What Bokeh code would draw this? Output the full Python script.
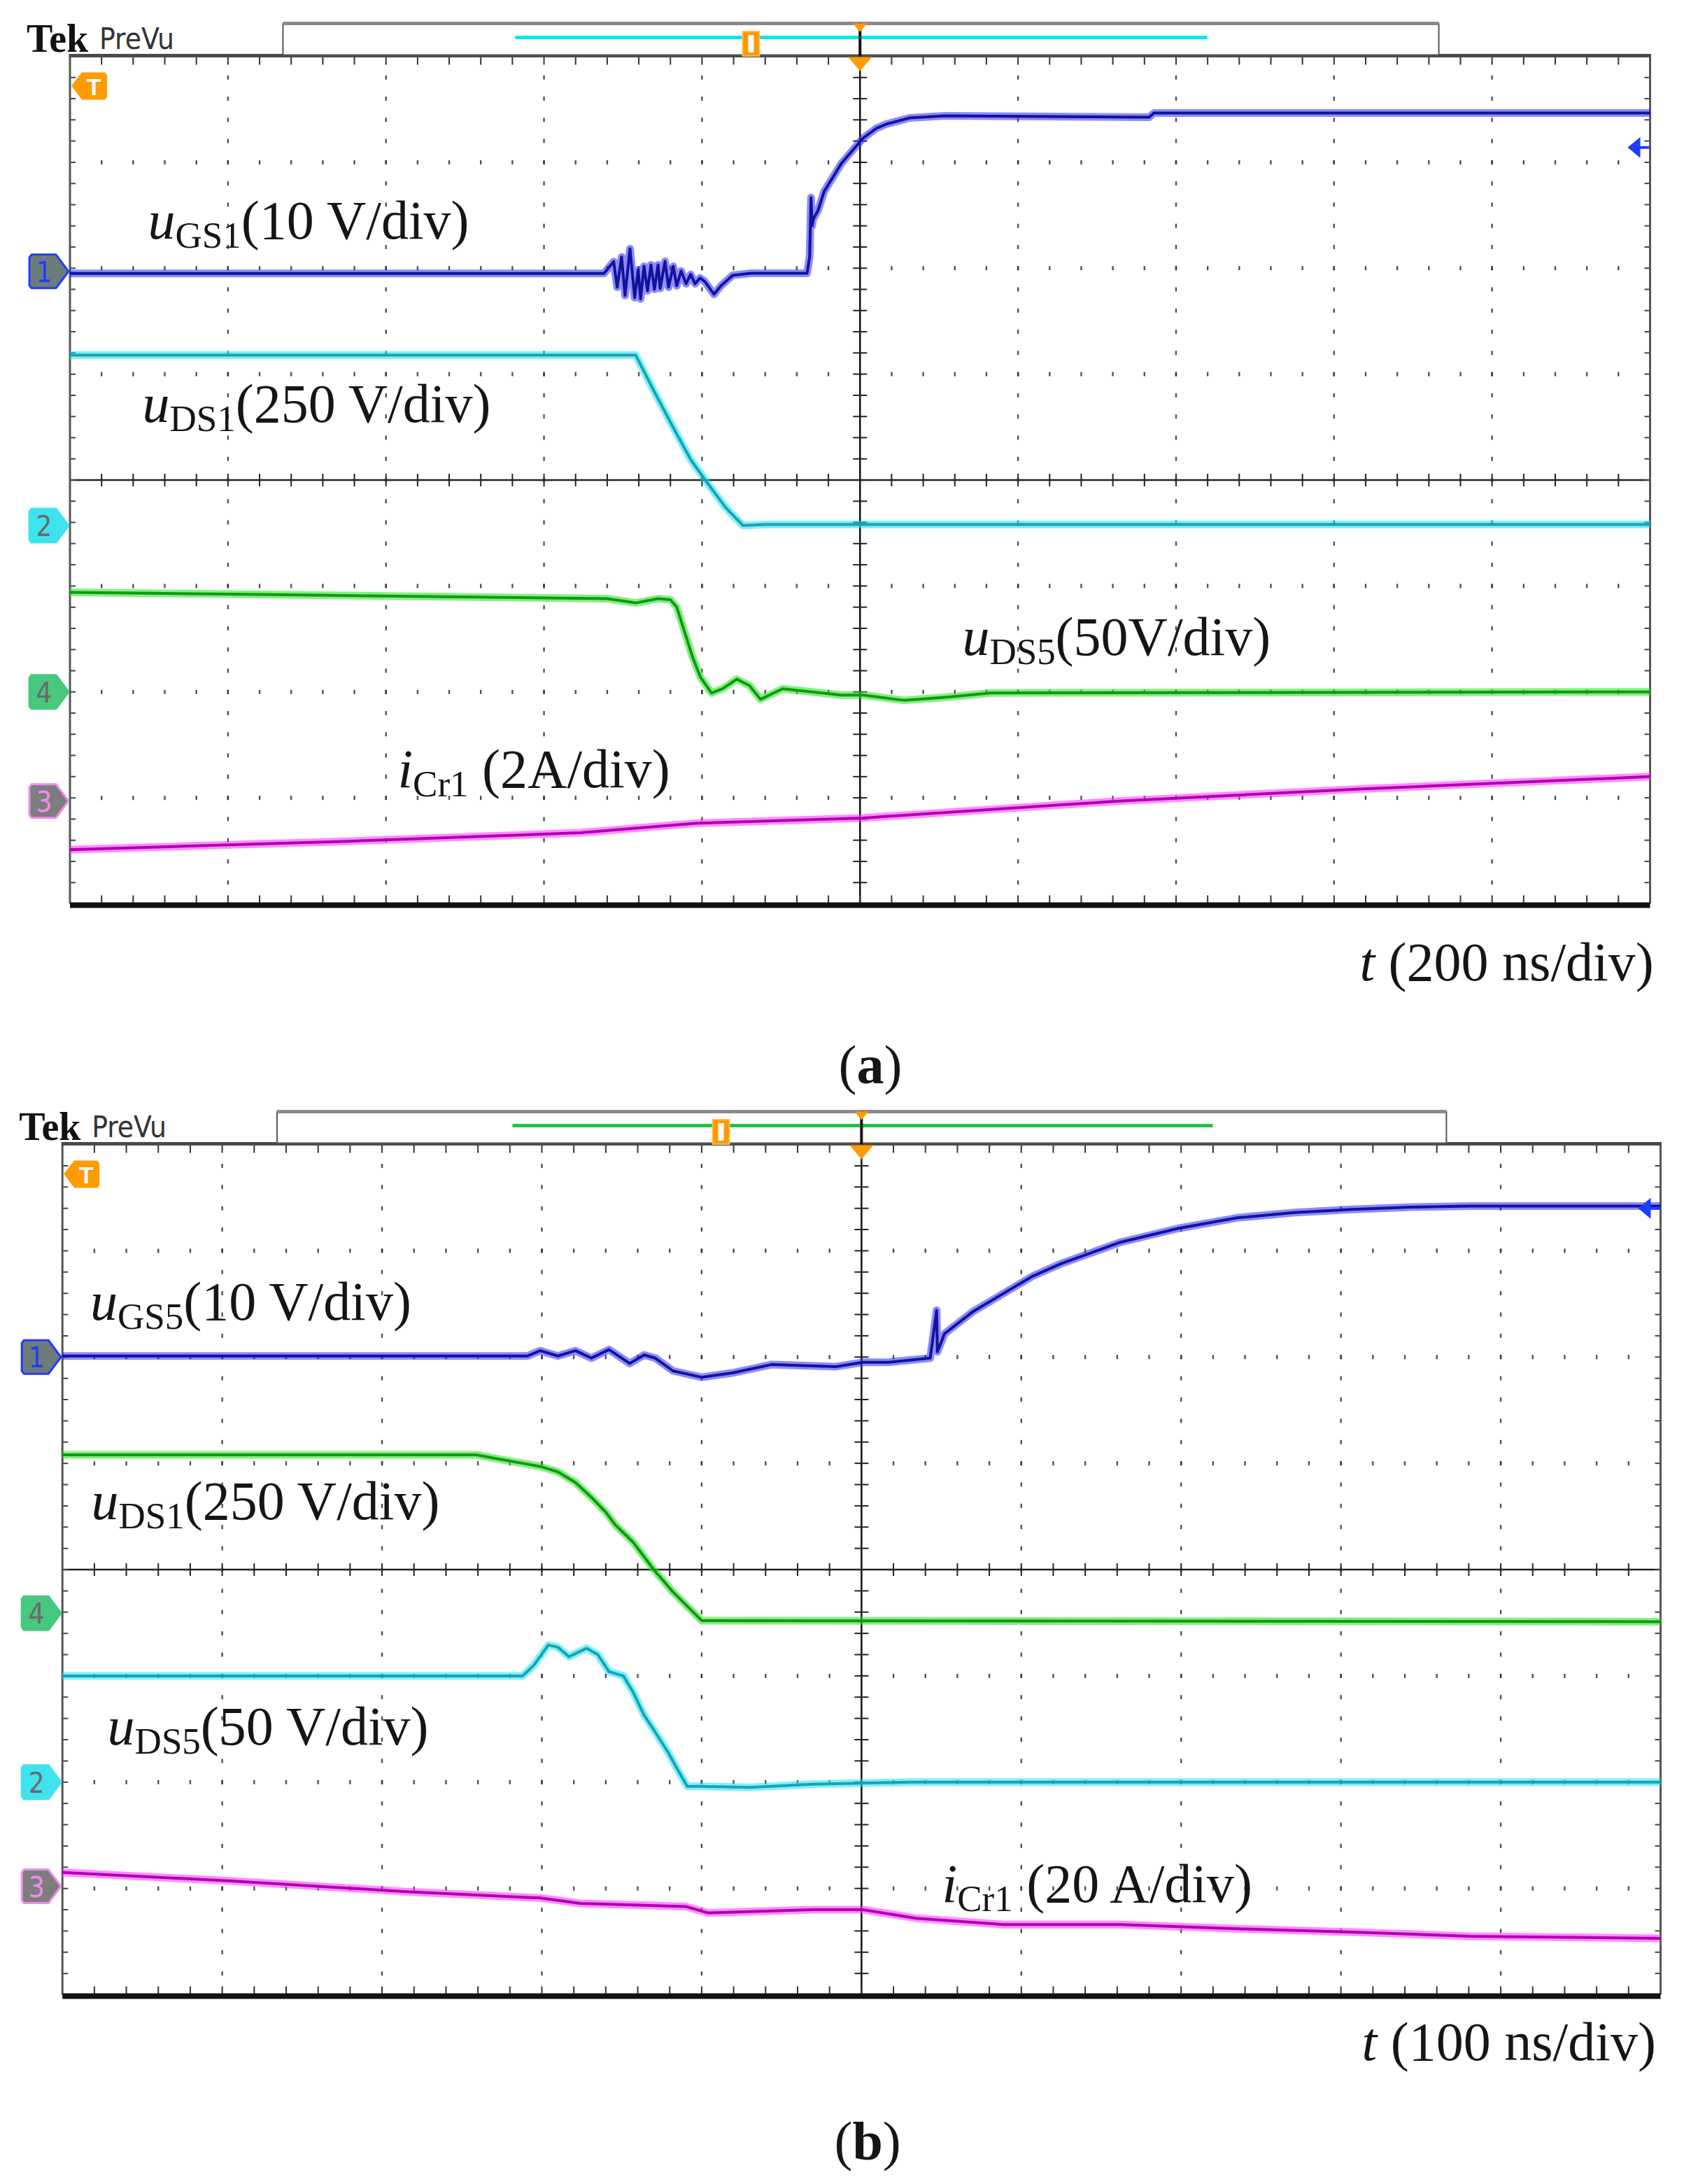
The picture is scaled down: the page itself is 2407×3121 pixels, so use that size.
from bokeh.plotting import figure
from bokeh.layouts import column
from bokeh.models import Range1d
from bokeh.core.properties import value
from bokeh.embed import file_html
from bokeh.resources import INLINE

# ------------------------------------------------------------------
# Data, in oscilloscope divisions (x: 0..10 div, y: -4..+4 div)
# ------------------------------------------------------------------
# Panel (a), 200 ns/div
a_ugs1_x = [0, 3.38, 3.441, 3.463, 3.491, 3.513, 3.544, 3.574, 3.596, 3.611, 3.633, 3.655,
            3.677, 3.699, 3.722, 3.735, 3.766, 3.788, 3.818, 3.840, 3.868, 3.899, 3.928,
            3.956, 3.987, 4.017, 4.076, 4.120, 4.194, 4.310, 4.665, 4.681, 4.690, 4.697,
            4.703, 4.735, 4.773, 4.828, 4.882, 4.957, 5.019, 5.103, 5.168, 5.315, 5.537,
            6.83, 6.86, 10.0]
a_ugs1_y = [1.95, 1.95, 2.063, 1.82, 2.106, 1.743, 2.184, 1.721, 1.985, 1.71, 2.018, 1.787,
            2.032, 1.801, 2.032, 1.809, 2.065, 1.82, 2.018, 1.834, 1.974, 1.853, 1.941,
            1.853, 1.908, 1.875, 1.754, 1.834, 1.933, 1.952, 1.952, 2.106, 2.668, 2.40,
            2.46, 2.547, 2.725, 2.857, 2.989, 3.12, 3.227, 3.32, 3.361, 3.419, 3.439,
            3.425, 3.465, 3.465]
a_uds1_x = [0, 3.58, 3.71, 3.82, 3.93, 4.02, 4.15, 4.26, 4.40, 10.0]
a_uds1_y = [1.18, 1.18, 0.80, 0.49, 0.19, 0.0, -0.26, -0.43, -0.42, -0.42]
a_uds5_x = [0, 1.2, 3.4, 3.58, 3.72, 3.80, 3.84, 3.90, 3.94, 3.99, 4.06, 4.13, 4.22, 4.30,
            4.37, 4.51, 4.88, 5.02, 5.28, 5.55, 5.83, 10.0]
a_uds5_y = [-1.06, -1.08, -1.12, -1.16, -1.12, -1.13, -1.20, -1.48, -1.67, -1.86, -2.01,
            -1.97, -1.88, -1.94, -2.07, -1.97, -2.03, -2.03, -2.08, -2.05, -2.01, -2.0]
a_icr1_x = [0, 1.76, 3.23, 3.96, 5.02, 6.64, 8.12, 10.0]
a_icr1_y = [-3.49, -3.41, -3.33, -3.24, -3.19, -3.03, -2.92, -2.80]

# Panel (b), 100 ns/div
b_ugs5_x = [0, 2.91, 2.99, 3.10, 3.21, 3.31, 3.42, 3.55, 3.64, 3.71, 3.82, 4.00, 4.19, 4.44,
            4.84, 5.01, 5.16, 5.43, 5.47, 5.475, 5.52, 5.70, 5.89, 6.07, 6.25, 6.62, 6.98,
            7.35, 7.71, 8.07, 8.44, 8.81, 10.0]
b_ugs5_y = [2.01, 2.01, 2.06, 2.01, 2.06, 1.99, 2.07, 1.94, 2.02, 1.99, 1.87, 1.81, 1.85, 1.93,
            1.91, 1.95, 1.95, 1.99, 2.44, 2.05, 2.22, 2.43, 2.60, 2.76, 2.88, 3.08, 3.21,
            3.31, 3.36, 3.39, 3.41, 3.42, 3.42]
b_uds1_x = [0, 2.59, 2.73, 2.88, 2.99, 3.10, 3.21, 3.31, 3.40, 3.46, 3.57, 3.70, 3.82, 4.00, 10.0]
b_uds1_y = [1.08, 1.08, 1.04, 1.00, 0.97, 0.92, 0.82, 0.68, 0.54, 0.42, 0.26, 0.0, -0.21,
            -0.48, -0.49]
b_uds5_x = [0, 2.88, 2.95, 3.04, 3.10, 3.17, 3.28, 3.35, 3.42, 3.51, 3.57, 3.64, 3.71, 3.79,
            3.86, 3.91, 4.00, 4.30, 4.69, 5.30, 10.0]
b_uds5_y = [-1.0, -1.0, -0.90, -0.71, -0.73, -0.82, -0.74, -0.80, -0.96, -1.0, -1.15, -1.37,
            -1.53, -1.72, -1.91, -2.04, -2.04, -2.05, -2.02, -2.0, -2.0]
b_icr1_x = [0, 1.06, 2.15, 2.99, 3.24, 3.90, 4.04, 4.69, 5.01, 5.34, 5.89, 6.62, 7.35, 8.07,
            8.81, 10.0]
b_icr1_y = [-2.85, -2.93, -3.03, -3.09, -3.14, -3.17, -3.23, -3.20, -3.20, -3.28, -3.34,
            -3.34, -3.38, -3.41, -3.45, -3.47]

# channel reference levels (div) shown by the left-edge markers
a_ch_names = ["1", "2", "4", "3"]
a_ch_levels = [1.97, -0.43, -2.0, -3.03]
b_ch_names = ["1", "4", "2", "3"]
b_ch_levels = [2.0, -0.41, -2.0, -2.98]

# label texts: (pieces) -> style: it / rm / sub / bd
a_label_texts = [
    [("u", "it"), ("GS1", "sub"), ("(10 V/div)", "rm")],
    [("u", "it"), ("DS1", "sub"), ("(250 V/div)", "rm")],
    [("u", "it"), ("DS5", "sub"), ("(50V/div)", "rm")],
    [("i", "it"), ("Cr1", "sub"), (" (2A/div)", "rm")],
    [("t", "it"), (" (200 ns/div)", "rm")],
    [("(", "rm"), ("a", "bd"), (")", "rm")],
]
b_label_texts = [
    [("u", "it"), ("GS5", "sub"), ("(10 V/div)", "rm")],
    [("u", "it"), ("DS1", "sub"), ("(250 V/div)", "rm")],
    [("u", "it"), ("DS5", "sub"), ("(50 V/div)", "rm")],
    [("i", "it"), ("Cr1", "sub"), (" (20 A/div)", "rm")],
    [("t", "it"), (" (100 ns/div)", "rm")],
    [("(", "rm"), ("b", "bd"), (")", "rm")],
]
# label anchor positions (div units, baseline-left)
a_label_pos = [(0.494, 2.282), (0.458, 0.552), (5.647, -1.648), (2.074, -2.900),
               (8.162, -4.720), (4.864, -5.691)]
b_label_pos = [(0.174, 2.354), (0.181, 0.477), (0.282, -1.643), (5.504, -3.124),
               (8.131, -4.612), (4.830, -5.547)]

# ------------------------------------------------------------------
# colours / styles
# ------------------------------------------------------------------
BLUE = ("#12129a", "#2b2bff")
CYAN = ("#17a3b5", "#19e3f0")
GREEN = ("#0f9a0f", "#22e022")
MAGENTA = ("#b000b0", "#ff2cff")
ORANGE = "#ff9a00"
SERIF = value("Liberation Serif")
SANS = value("Liberation Sans")
NARROW = value("Liberation Sans Narrow, DejaVu Sans Condensed, Liberation Sans")
MAIN, SUB, SUB_DROP = 78, 53, 13
SERIF_MID = 0.3375   # (ascent - descent) / 2, Liberation Serif
SANS_MID = 0.3465

REG = {' ': 250, '(': 333, ')': 333, '/': 278, 'A': 722, 'C': 667, 'D': 722, 'G': 722,
       'S': 556, 'V': 722, 'd': 500, 'i': 278, 'v': 500, 'n': 500, 's': 389, 'r': 333,
       'a': 444, 'b': 500, 't': 278, 'u': 500}
BOLD = {'a': 500, 'b': 556, '(': 333, ')': 333}


def width_px(s, table, size):
    return sum(table.get(c, 500) for c in s) / 1000.0 * size


W = 2407
HA, HB = 1575, 1546


def make_panel(H, geo):
    sx, sy = geo["sx"], geo["sy"]
    p = figure(width=W, height=H, output_backend="svg", toolbar_location=None,
               x_axis_location=None, y_axis_location=None, min_border=0,
               outline_line_color=None,
               x_range=Range1d(geo["x0"], geo["x0"] + W / sx),
               y_range=Range1d(geo["ytop"] - H / sy, geo["ytop"]))
    p.grid.visible = False
    p.background_fill_color = "white"
    p.border_fill_color = "white"
    return p


def text_at(p, sy, x, y_base, txt, font, size, style="normal", color="#151515",
            align="left", mid=SERIF_MID):
    """Place text so that its alphabetic baseline sits at y_base (data units)."""
    p.text(x=[x], y=[y_base + mid * size / sy], text=[txt], text_font=font,
           text_font_style=style, text_font_size=f"{size}px", text_color=color,
           text_baseline="middle", text_align=align)


def draw_screen(p, geo):
    sx, sy = geo["sx"], geo["sy"]
    fifth = [i / 5.0 for i in range(1, 50)]
    fifth_y = [-4 + i / 5.0 for i in range(1, 40)]
    vx, vy = [], []
    for gx in [1, 2, 3, 4, 6, 7, 8, 9]:
        for yy in fifth_y:
            vx.append(gx)
            vy.append(yy)
    p.rect(vx, vy, width=2.4, height=6, width_units="screen", height_units="screen",
           fill_color="#333333", line_color=None, fill_alpha=0.85)
    hx, hy = [], []
    for gy in [-3, -2, -1, 1, 2, 3]:
        for xx in fifth:
            hx.append(xx)
            hy.append(gy)
    p.rect(hx, hy, width=2.4, height=6, width_units="screen", height_units="screen",
           fill_color="#333333", line_color=None, fill_alpha=0.85)
    # centre cross-hair with ticks
    p.line([5, 5], [-4, 4], line_color="#111111", line_width=2.5)
    p.line([0, 10], [0, 0], line_color="#222222", line_width=2.5)
    p.rect([5] * len(fifth_y), fifth_y, width=20, height=2, width_units="screen",
           height_units="screen", fill_color="#222222", line_color=None)
    p.rect(fifth, [0] * len(fifth), width=2, height=18, width_units="screen",
           height_units="screen", fill_color="#222222", line_color=None)
    # border ticks
    tk = 12
    p.segment(fifth, [4] * 49, fifth, [4 - tk / sy] * 49, line_color="#333333", line_width=2)
    p.segment(fifth, [-4] * 49, fifth, [-4 + tk / sy] * 49, line_color="#333333", line_width=2)
    p.segment([0] * 39, fifth_y, [8 / sx] * 39, fifth_y, line_color="#444444", line_width=2)
    p.segment([10] * 39, fifth_y, [10 - 8 / sx] * 39, fifth_y, line_color="#444444", line_width=2)
    # border
    p.line([0, 0], [-4, 4], line_color="#555555", line_width=3)
    p.line([10, 10], [-4, 4], line_color="#555555", line_width=3)
    p.line([0, 10], [-4 - 2 / sy, -4 - 2 / sy], line_color="#111111", line_width=8)
    p.line([-1.5 / sx, 10 + 1.5 / sx], [4 + 1 / sy, 4 + 1 / sy], line_color="#4a4a4a",
           line_width=5)


def draw_header(p, geo):
    sx, sy = geo["sx"], geo["sy"]
    text_at(p, sy, -62 / sx, 4 + 7 / sy, "Tek", SERIF, 56, style="bold", color="#111111")
    text_at(p, sy, 42 / sx, 4 + 10 / sy, "PreVu", NARROW, 42, color="#333333", mid=SANS_MID)
    # record-view box
    bx0, bx1 = geo["box"]
    btop, bbot = 4 + 47 / sy, 4 + 2 / sy
    p.quad(left=[bx0], right=[bx1], top=[btop], bottom=[bbot], fill_color="white",
           line_color="#555555", line_width=2)
    p.line([bx0, bx1], [btop, btop], line_color="#8a8a8a", line_width=5)
    rx0, rx1 = geo["rec"]
    p.line([rx0, rx1], [4 + 27 / sy, 4 + 27 / sy], line_color=geo["rec_color"], line_width=5)
    # record position marker
    p.rect([geo["tmark"]], [4 + 18 / sy], width=24, height=35, width_units="screen",
           height_units="screen", fill_color=ORANGE, line_color="#ffbb55", line_width=2)
    p.rect([geo["tmark"]], [4 + 18 / sy], width=8, height=25, width_units="screen",
           height_units="screen", fill_color="white", line_color=None)
    # trigger position
    p.line([5, 5], [btop, 4], line_color="#111111", line_width=4)
    p.patch([5 - 10 / sx, 5 + 10 / sx, 5], [btop, btop, btop - 12 / sy], fill_color=ORANGE,
            line_color=None)
    p.patch([5 - 17 / sx, 5 + 17 / sx, 5], [4 - 1 / sy, 4 - 1 / sy, 4 - 21 / sy],
            fill_color=ORANGE, line_color=None)
    # trigger level marker "T" inside the screen, top-left
    pts = [(2, -42), (17, -23), (50, -23), (53, -27), (53, -58), (50, -62), (17, -62)]
    p.patch([a / sx for a, b in pts], [4 + b / sy for a, b in pts],
            fill_color=ORANGE, line_color=None)
    text_at(p, sy, 34 / sx, 4 - 55 / sy, "T", SANS, 34, style="bold", color="white",
            align="center", mid=SANS_MID)


def draw_trace(p, xs, ys, colors):
    core, halo = colors
    p.line(xs, ys, line_color=halo, line_width=11, line_alpha=0.55, line_join="round")
    p.line(xs, ys, line_color=core, line_width=4, line_join="round")


CH_STYLE = {"1": ("#6e7b7b", "#1f3dff", "#1f3dff"),
            "2": ("#3fe3ee", "#3fe3ee", "#6a6a6a"),
            "4": ("#46c97f", "#46c97f", "#6a6a6a"),
            "3": ("#7d7d7d", "#f08cf0", "#f08cf0")}


def draw_markers(p, geo, names, levels, right_level):
    sx, sy = geo["sx"], geo["sy"]
    pts = [(-58, -20), (-55, -24), (-20, -24), (-2, 0), (-20, 24), (-55, 24), (-58, 20)]
    for nm, lv in zip(names, levels):
        fill, line, tcol = CH_STYLE[nm]
        p.patch([a / sx for a, b in pts], [lv + b / sy for a, b in pts], fill_color=fill,
                line_color=line, line_width=3)
        text_at(p, sy, -37 / sx, lv - 14 / sy, nm, NARROW, 40, color=tcol, align="center",
                mid=SANS_MID)
    # channel-1 level arrow on the right edge
    p.patch([10 - 32 / sx, 10 - 14 / sx, 10 - 14 / sx],
            [right_level, right_level + 15 / sy, right_level - 15 / sy],
            fill_color="#1f3dff", line_color=None)
    p.line([10 - 30 / sx, 10], [right_level, right_level], line_color="#1f3dff", line_width=4)


def draw_labels(p, geo, texts, positions):
    sx, sy = geo["sx"], geo["sy"]
    for parts, (x0, y0) in zip(texts, positions):
        cx = 0.0
        for txt, st in parts:
            if st == "sub":
                size, drop, style, table = SUB, SUB_DROP, "normal", REG
            elif st == "it":
                size, drop, style, table = MAIN, 0, "italic", REG
            elif st == "bd":
                size, drop, style, table = MAIN, 0, "bold", BOLD
            else:
                size, drop, style, table = MAIN, 0, "normal", REG
            stripped = txt.lstrip(" ")
            cx += width_px(txt[:len(txt) - len(stripped)], REG, size)
            text_at(p, sy, x0 + cx / sx, y0 - drop / sy, stripped, SERIF, size, style=style)
            cx += width_px(stripped, table, size)


# panel geometry (pixels per division, left/top visible extents in div)
geo_a = dict(sx=225.85, sy=151.375, x0=-0.4406, ytop=4.5285, box=(1.348, 8.663),
             rec=(2.818, 7.198), rec_color="#00e8f0", tmark=4.310)
geo_b = dict(sx=228.43, sy=151.875, x0=-0.3883, ytop=4.3951, box=(1.343, 8.660),
             rec=(2.816, 7.198), rec_color="#1fc646", tmark=4.121)

pa = make_panel(HA, geo_a)
draw_screen(pa, geo_a)
draw_header(pa, geo_a)
draw_trace(pa, a_icr1_x, a_icr1_y, MAGENTA)
draw_trace(pa, a_uds5_x, a_uds5_y, GREEN)
draw_trace(pa, a_uds1_x, a_uds1_y, CYAN)
draw_trace(pa, a_ugs1_x, a_ugs1_y, BLUE)
draw_markers(pa, geo_a, a_ch_names, a_ch_levels, 3.14)
draw_labels(pa, geo_a, a_label_texts, a_label_pos)

pb = make_panel(HB, geo_b)
draw_screen(pb, geo_b)
draw_header(pb, geo_b)
draw_trace(pb, b_icr1_x, b_icr1_y, MAGENTA)
draw_trace(pb, b_uds5_x, b_uds5_y, CYAN)
draw_trace(pb, b_uds1_x, b_uds1_y, GREEN)
draw_trace(pb, b_ugs5_x, b_ugs5_y, BLUE)
draw_markers(pb, geo_b, b_ch_names, b_ch_levels, 3.40)
draw_labels(pb, geo_b, b_label_texts, b_label_pos)

layout = column(pa, pb, spacing=0)
open("out.html", "w").write(file_html(layout, INLINE))
